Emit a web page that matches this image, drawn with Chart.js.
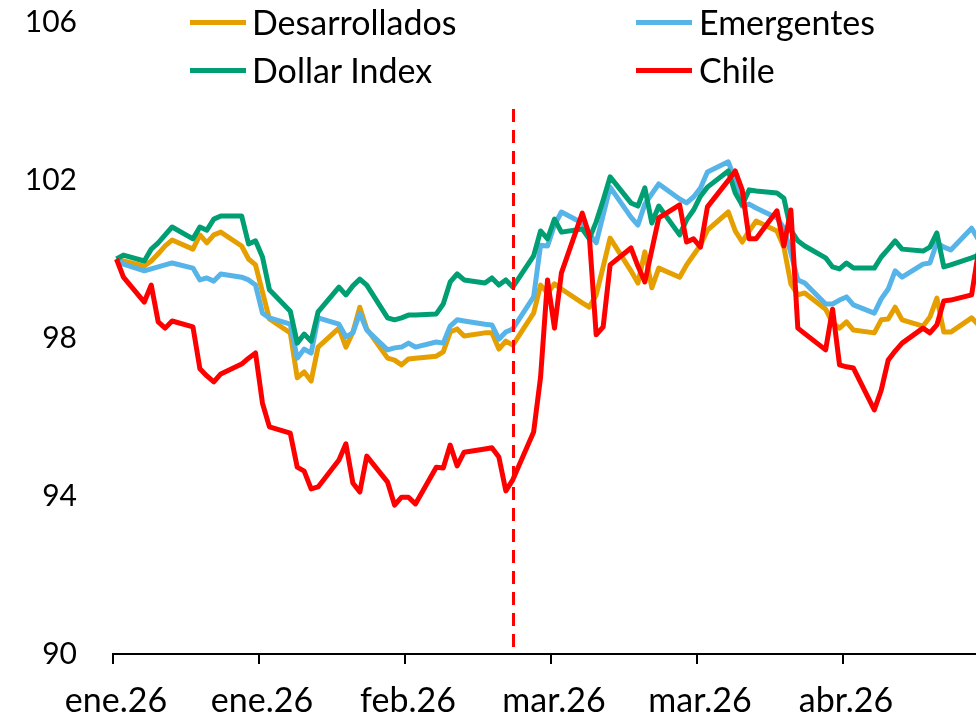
<!DOCTYPE html>
<html><head><meta charset="utf-8">
<script src="https://cdn.jsdelivr.net/npm/chart.js@4.4.1/dist/chart.umd.min.js"></script>
<style>
html,body{margin:0;padding:0;background:#fff;overflow:hidden}
#wrap{position:relative;width:976px;height:718px}
canvas{position:absolute;left:0;top:0}
.lg-line{position:absolute;height:5px}
.lg-text{position:absolute;font-family:Lato,sans-serif;font-size:34px;line-height:40px;color:#000;white-space:nowrap}
</style></head><body>
<div id="wrap"><canvas id="c" width="976" height="718"></canvas><div id="legend"></div></div>
<script>
// ---- data ----
const dates = [
 '2026-01-01','2026-01-02','2026-01-05','2026-01-06','2026-01-07','2026-01-08','2026-01-09','2026-01-12','2026-01-13','2026-01-14','2026-01-15','2026-01-16','2026-01-19','2026-01-20','2026-01-21','2026-01-22','2026-01-23','2026-01-26','2026-01-27','2026-01-28','2026-01-29','2026-01-30',
 '2026-02-02','2026-02-03','2026-02-04','2026-02-05','2026-02-06','2026-02-09','2026-02-10','2026-02-11','2026-02-12','2026-02-13','2026-02-16','2026-02-17','2026-02-18','2026-02-19','2026-02-20','2026-02-23','2026-02-24','2026-02-25','2026-02-26','2026-02-27',
 '2026-03-02','2026-03-03','2026-03-04','2026-03-05','2026-03-06','2026-03-09','2026-03-10','2026-03-11','2026-03-12','2026-03-13','2026-03-16','2026-03-17','2026-03-18','2026-03-19','2026-03-20','2026-03-23','2026-03-24','2026-03-25','2026-03-26','2026-03-27','2026-03-30','2026-03-31',
 '2026-04-01','2026-04-02','2026-04-03','2026-04-06','2026-04-07','2026-04-08','2026-04-09','2026-04-10','2026-04-13','2026-04-14','2026-04-15','2026-04-16','2026-04-17','2026-04-20','2026-04-21','2026-04-22','2026-04-23','2026-04-24','2026-04-27','2026-04-28','2026-04-29','2026-04-30',
 '2026-05-01','2026-05-04','2026-05-05'
];
const desarrollados = [
 100.0,99.95,99.82,99.95,100.13,100.33,100.48,100.25,100.61,100.41,100.61,100.68,100.33,100.0,99.85,99.16,98.48,98.13,96.99,97.14,96.91,97.77,
 98.25,97.77,98.15,98.78,98.23,97.49,97.44,97.32,97.47,97.49,97.54,97.65,98.15,98.23,98.05,98.13,98.13,97.72,97.92,97.82,
 98.63,99.34,99.14,99.37,99.24,98.89,98.78,99.09,99.80,100.53,99.70,99.39,100.18,99.27,99.77,99.54,99.85,100.10,100.35,100.73,101.19,100.71,
 100.43,100.71,100.96,100.71,100.30,99.37,99.09,99.14,98.73,98.38,98.25,98.41,98.20,98.13,98.46,98.48,98.78,98.46,98.30,98.53,99.01,98.15,
 98.15,98.51,98.33
];
const emergentes = [
 100.0,99.87,99.70,99.75,99.80,99.85,99.90,99.77,99.47,99.52,99.44,99.62,99.54,99.47,99.34,98.63,98.51,98.35,97.49,97.72,97.62,98.51,
 98.35,98.03,98.13,98.63,98.20,97.70,97.75,97.77,97.87,97.77,97.90,97.87,98.30,98.46,98.43,98.35,98.33,97.97,98.15,98.23,
 99.04,100.35,100.33,100.86,101.19,100.91,100.63,100.41,101.11,101.82,101.06,100.86,101.39,101.65,101.90,101.52,101.42,101.57,101.80,102.20,102.46,102.00,
 101.34,101.39,101.29,101.04,100.78,100.15,99.47,99.39,98.86,98.86,98.96,99.04,98.84,98.63,98.99,99.24,99.70,99.54,99.87,99.90,100.41,100.30,
 100.23,100.78,100.48
];
const dollarIndex = [
 100.0,100.10,99.95,100.25,100.41,100.61,100.81,100.51,100.81,100.73,101.01,101.09,101.09,100.38,100.46,100.05,99.22,98.68,97.87,98.10,97.92,98.66,
 99.29,99.09,99.32,99.49,99.34,98.51,98.46,98.51,98.58,98.58,98.61,98.86,99.42,99.62,99.47,99.39,99.52,99.34,99.47,99.29,
 100.08,100.71,100.51,101.01,100.68,100.76,100.51,100.94,101.49,102.08,101.42,101.34,101.80,100.91,101.34,100.61,100.99,101.24,101.59,101.82,102.23,101.67,
 101.37,101.75,101.72,101.67,101.54,100.73,100.46,100.33,100.03,99.80,99.75,99.90,99.77,99.77,100.05,100.25,100.46,100.25,100.20,100.30,100.66,99.80,
 99.85,100.03,100.10
];
const chile = [
 100.0,99.54,98.91,99.34,98.41,98.25,98.43,98.28,97.22,97.04,96.89,97.09,97.34,97.49,97.62,96.35,95.75,95.59,94.73,94.63,94.18,94.23,
 94.91,95.32,94.33,94.10,95.01,94.35,93.77,93.97,93.97,93.80,94.73,94.71,95.29,94.76,95.11,95.19,95.22,94.99,94.13,94.41,
 95.62,97.01,99.47,98.25,99.65,101.16,100.61,98.08,98.28,99.85,100.28,99.82,99.42,100.23,101.04,101.37,100.43,100.51,100.30,101.32,101.99,102.23,
 101.75,100.51,100.51,101.22,100.33,101.24,98.25,98.11,97.70,98.73,97.32,97.27,97.24,96.18,96.68,97.44,97.67,97.87,98.25,98.13,98.33,98.94,
 98.96,99.09,100.2
];
const seriesNames = ['Desarrollados','Emergentes','Dollar Index','Chile'];
const seriesColors = ['#E69F00','#56B4E9','#009E73','#FF0000'];
const tickDates = ['2026-01-01','2026-01-22','2026-02-12','2026-03-05','2026-03-26','2026-04-16'];
const tickLabels = ['ene.26','ene.26','feb.26','mar.26','mar.26','abr.26'];
const eventDate = '2026-02-27';
const eventTop = 103.8;
const yMin = 90, yMax = 106, yStep = 4;

// ---- helpers ----
const base = Date.UTC(2026,0,1);
function dayOf(s){const p=s.split('-').map(Number);return Math.round((Date.UTC(p[0],p[1]-1,p[2])-base)/86400000);}
const FONT = 'Lato, sans-serif';
const allSeries = [desarrollados, emergentes, dollarIndex, chile];

const datasets = allSeries.map((vals,k)=>({
  label: seriesNames[k],
  data: dates.map((d,i)=>({x: dayOf(d), y: vals[i]})),
  borderColor: seriesColors[k],
  backgroundColor: seriesColors[k],
  borderWidth: 5,
  pointRadius: 0,
  tension: 0,
  borderJoinStyle: 'round',
  order: 4-k
}));

const eventLine = {
  id: 'eventLine',
  afterDatasetsDraw(chart){
    const {ctx, scales:{x, y}} = chart;
    const px = Math.round(x.getPixelForValue(dayOf(eventDate)))+0.5;
    ctx.save();
    ctx.strokeStyle = '#FF0000';
    ctx.lineWidth = 3;
    ctx.setLineDash([13, 8]);
    ctx.beginPath();
    ctx.moveTo(px, y.getPixelForValue(eventTop));
    ctx.lineTo(px, y.getPixelForValue(yMin));
    ctx.stroke();
    ctx.restore();
  }
};

const chart = new Chart(document.getElementById('c'), {
  type: 'line',
  data: { datasets },
  plugins: [eventLine],
  options: {
    responsive: false,
    animation: false,
    devicePixelRatio: 1,
    layout: { padding: { top: 22, right: 0, bottom: 0, left: 0 } },
    plugins: { legend: { display: false }, tooltip: { enabled: false } },
    scales: {
      x: {
        type: 'linear',
        min: dayOf(dates[0]) - 0.5,
        max: 123.63,
        afterBuildTicks(scale){ scale.ticks = tickDates.map(d=>({value: dayOf(d)-0.5})); },
        afterFit(scale){ scale.height = 64; scale.paddingLeft = 0; scale.paddingRight = 0; },
        ticks: {
          autoSkip: false, maxRotation: 0, minRotation: 0,
          color: '#000', font: { family: FONT, size: 34 }, padding: 17, labelOffset: 3,
          callback: (v, i) => tickLabels[i]
        },
        grid: { display: true, drawOnChartArea: false, drawTicks: true, tickLength: 10, color: '#000', lineWidth: 2 },
        border: { display: true, color: '#000', width: 2 }
      },
      y: {
        min: yMin, max: yMax,
        afterBuildTicks(scale){ const t=[]; for(let v=yMin; v<=yMax; v+=yStep) t.push({value:v}); scale.ticks=t; },
        afterFit(scale){ scale.width = 113; scale.paddingTop = 0; scale.paddingBottom = 0; },
        ticks: { color: '#000', font: { family: FONT, size: 30 }, padding: 36 },
        grid: { display: false, drawTicks: false },
        border: { display: false }
      }
    }
  }
});

// ---- legend (HTML, real text) ----
const lg = document.getElementById('legend');
const colMarker = [190, 636], colText = [252, 699], rowY = [22, 70];
datasets.forEach((ds,i)=>{
  const c = i%2, r = Math.floor(i/2);
  const ln = document.createElement('div');
  ln.className='lg-line';
  ln.style.left = colMarker[c]+'px'; ln.style.top = (rowY[r]-2.5)+'px';
  ln.style.width = '56px'; ln.style.background = ds.borderColor;
  lg.appendChild(ln);
  const tx = document.createElement('div');
  tx.className='lg-text';
  tx.style.left = colText[c]+'px'; tx.style.top = (rowY[r]-20)+'px';
  tx.textContent = ds.label;
  lg.appendChild(tx);
});
</script>
</body></html>
